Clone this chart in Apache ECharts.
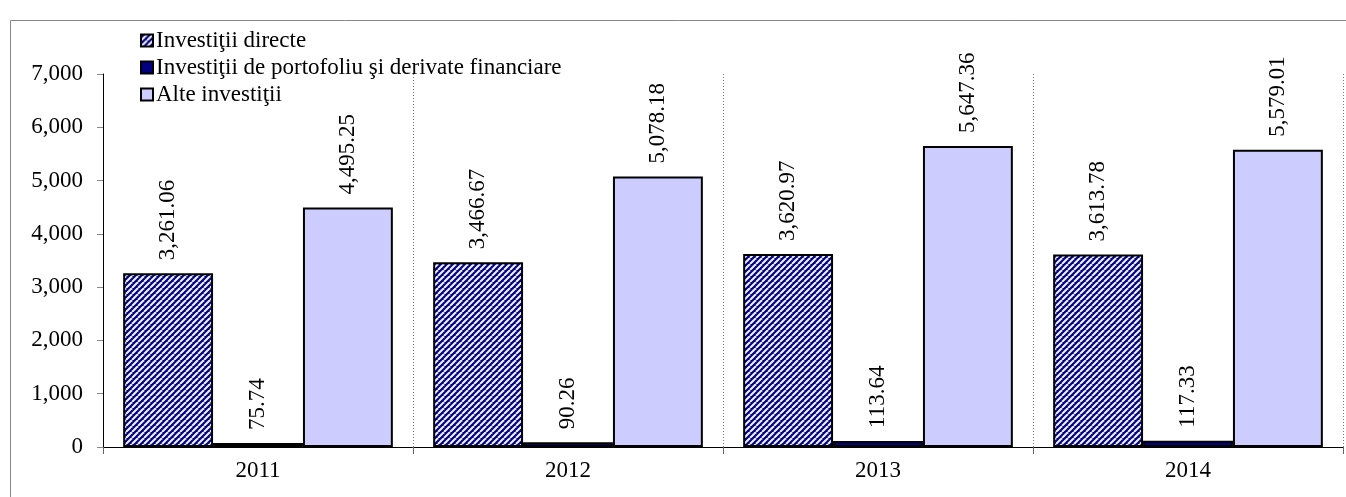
<!DOCTYPE html>
<html>
<head>
<meta charset="utf-8">
<script src="https://cdn.jsdelivr.net/npm/echarts@6/dist/echarts.min.js"></script>
<style>
  html, body { margin: 0; padding: 0; background: #fff; }
  #chart { width: 1346px; height: 497px; }
</style>
</head>
<body>
<div id="chart"></div>
<script>
// date
const years = ['2011', '2012', '2013', '2014']
const seriesNames = [
  'Investiţii directe',
  'Investiţii de portofoliu şi derivate financiare',
  'Alte investiţii'
]
const directe = [3261.06, 3466.67, 3620.97, 3613.78]
const portofoliu = [75.74, 90.26, 113.64, 117.33]
const alte = [4495.25, 5078.18, 5647.36, 5579.01]

const FONT = '"Liberation Serif", "Times New Roman", serif'
const FS = 23

// hasura diagonala pentru prima serie
const makeHatch = () => {
  const c = document.createElement('canvas')
  c.width = 6
  c.height = 6
  const ctx = c.getContext('2d')
  ctx.fillStyle = '#000080'
  ctx.fillRect(0, 0, 6, 6)
  ctx.strokeStyle = '#eeeeff'
  ctx.lineWidth = 2.1
  for (let k = -6; k <= 12; k += 6) {
    ctx.beginPath()
    ctx.moveTo(k, 6)
    ctx.lineTo(k + 6, 0)
    ctx.stroke()
  }
  return c
}

const fmt = v => v.toLocaleString('en-US', { minimumFractionDigits: 2, maximumFractionDigits: 2 })

const barLabel = {
  show: true,
  position: 'top',
  rotate: 90,
  align: 'left',
  verticalAlign: 'middle',
  distance: 13,
  color: '#000',
  fontFamily: FONT,
  fontSize: FS,
  formatter: p => fmt(p.value)
}

const chart = echarts.init(document.getElementById('chart'))

chart.setOption({
  animation: false,
  textStyle: { fontFamily: FONT },
  graphic: [
    {
      type: 'rect',
      shape: { x: 10.5, y: 20.5, width: 1400, height: 600 },
      style: { fill: 'none', stroke: '#888', lineWidth: 1 },
      z: -1
    }
  ],
  legend: {
    orient: 'vertical',
    left: 140,
    top: 29,
    padding: 0,
    itemWidth: 12,
    itemHeight: 12,
    itemGap: 4,
    icon: 'rect',
    textStyle: { fontFamily: FONT, fontSize: FS, color: '#000', padding: [0, 0, 0, -2] },
    data: seriesNames
  },
  grid: { left: 103, right: 3, top: 74, bottom: 50 },
  xAxis: {
    type: 'category',
    data: years,
    axisLine: { lineStyle: { color: '#000', width: 1 } },
    axisTick: { show: true, length: 7, lineStyle: { color: '#666' } },
    axisLabel: { color: '#000', fontFamily: FONT, fontSize: FS, margin: 12 },
    splitLine: { show: true, lineStyle: { color: '#777', type: [1, 2], width: 1 } }
  },
  yAxis: {
    type: 'value',
    min: 0,
    max: 7000,
    interval: 1000,
    axisLine: { show: true, lineStyle: { color: '#000', width: 1 } },
    axisTick: { show: true, length: 6, lineStyle: { color: '#888' } },
    axisLabel: {
      color: '#000',
      fontFamily: FONT,
      fontSize: FS,
      margin: 20,
      formatter: v => v.toLocaleString('en-US')
    },
    splitLine: { show: false }
  },
  series: [
    {
      name: seriesNames[0],
      type: 'bar',
      data: directe,
      barGap: '0%',
      barCategoryGap: '13%',
      itemStyle: {
        color: { image: makeHatch(), repeat: 'repeat' },
        borderColor: '#000',
        borderWidth: 2
      },
      label: barLabel
    },
    {
      name: seriesNames[1],
      type: 'bar',
      data: portofoliu,
      itemStyle: { color: '#000080', borderColor: '#000', borderWidth: 2 },
      label: barLabel
    },
    {
      name: seriesNames[2],
      type: 'bar',
      data: alte,
      itemStyle: { color: '#ccccff', borderColor: '#000', borderWidth: 2 },
      label: barLabel
    }
  ]
})
</script>
</body>
</html>
